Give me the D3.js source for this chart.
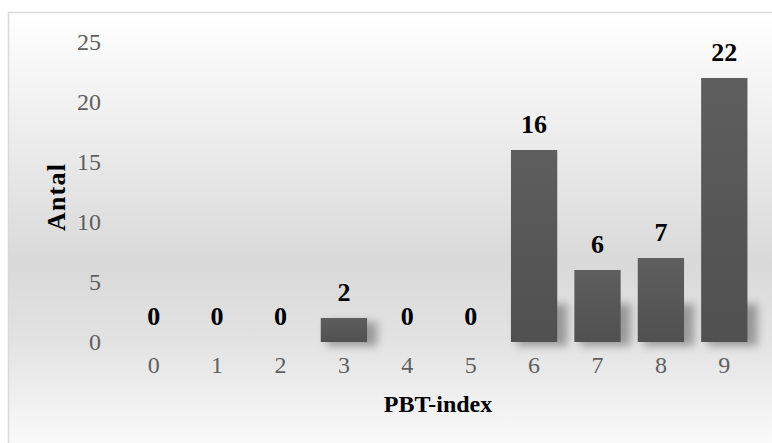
<!DOCTYPE html>
<html>
<head>
<meta charset="utf-8">
<script src="https://cdn.jsdelivr.net/npm/d3@7"></script>
<style>
  html, body { margin: 0; padding: 0; background: #fff; overflow: hidden; }
  svg { display: block; }
</style>
</head>
<body>
<svg id="chart" width="772" height="443"></svg>
<script>
// PBT-index distribution
const categories = ["0", "1", "2", "3", "4", "5", "6", "7", "8", "9"];
const counts = [0, 0, 0, 2, 0, 0, 16, 6, 7, 22];
const yTicks = [0, 5, 10, 15, 20, 25];
const xTitle = "PBT-index";
const yTitle = "Antal";

const W = 772, H = 443;
const svg = d3.select("#chart");
const defs = svg.append("defs");

// chart area background: light at top and bottom, grey through the middle
const bg = defs.append("linearGradient").attr("id", "bgGrad")
  .attr("x1", 0).attr("y1", 0).attr("x2", 0).attr("y2", 1);
[[0, "#ffffff"], [0.18, "#f3f3f3"], [0.55, "#d9d9d9"], [0.72, "#e2e2e2"], [1, "#ffffff"]]
  .forEach(([o, c]) => bg.append("stop").attr("offset", o).attr("stop-color", c));

const barGrad = defs.append("linearGradient").attr("id", "barGrad")
  .attr("x1", 0).attr("y1", 0).attr("x2", 0).attr("y2", 1);
barGrad.append("stop").attr("offset", 0).attr("stop-color", "#5e5e5e");
barGrad.append("stop").attr("offset", 1).attr("stop-color", "#505050");

defs.append("filter").attr("id", "soft")
  .attr("x", "-50%").attr("y", "-50%").attr("width", "200%").attr("height", "200%")
  .append("feGaussianBlur").attr("stdDeviation", 4);

svg.append("rect")
  .attr("x", 8.5).attr("y", 12.5).attr("width", W + 10).attr("height", H + 10)
  .attr("fill", "url(#bgGrad)").attr("stroke", "#d9d9d9").attr("stroke-width", 1.5);

const x = d3.scaleBand().domain(categories).range([122, 756]).paddingInner(0.27).paddingOuter(0.135);
const y = d3.scaleLinear().domain([0, 25]).range([342, 42]);

const data = categories.map((c, i) => ({ c, v: counts[i] }));

// soft shadows falling behind the lower part of each bar
const shadowG = svg.append("g").attr("filter", "url(#soft)");
shadowG.selectAll("rect").data(data.filter(d => d.v > 0)).join("rect")
  .attr("x", d => x(d.c) + 6)
  .attr("y", d => Math.max(y(d.v), y(0) - 42) + 4)
  .attr("width", x.bandwidth() + 4)
  .attr("height", d => y(0) - Math.max(y(d.v), y(0) - 42))
  .attr("fill", "#000").attr("opacity", 0.32);

svg.append("g").selectAll("rect").data(data).join("rect")
  .attr("x", d => x(d.c))
  .attr("y", d => y(d.v))
  .attr("width", x.bandwidth())
  .attr("height", d => y(0) - y(d.v))
  .attr("fill", "url(#barGrad)");

const font = "'Liberation Serif', 'Times New Roman', serif";

// value labels
svg.append("g").selectAll("text").data(data).join("text")
  .attr("x", d => x(d.c) + x.bandwidth() / 2)
  .attr("y", d => y(d.v) - 17)
  .attr("text-anchor", "middle")
  .attr("font-family", font)
  .attr("font-weight", "bold").attr("font-size", 26).attr("fill", "#000")
  .text(d => d.v);

const yAxis = svg.append("g").attr("transform", "translate(101,0)")
  .call(d3.axisLeft(y).tickValues(yTicks).tickSize(0).tickPadding(0));
yAxis.select(".domain").remove();
yAxis.selectAll("text").attr("font-family", font).attr("font-size", 24).attr("fill", "#5f5f5f");

const xAxis = svg.append("g").attr("transform", "translate(0,356)")
  .call(d3.axisBottom(x).tickSize(0).tickPadding(0));
xAxis.select(".domain").remove();
xAxis.selectAll("text").attr("font-family", font).attr("font-size", 24).attr("fill", "#5f5f5f");

svg.append("text")
  .attr("x", 438).attr("y", 412)
  .attr("text-anchor", "middle")
  .attr("font-family", font).attr("font-weight", "bold").attr("font-size", 24)
  .text(xTitle);

svg.append("text")
  .attr("transform", "translate(65,197) rotate(-90)")
  .attr("text-anchor", "middle")
  .attr("font-family", font).attr("font-weight", "bold").attr("font-size", 26)
  .attr("letter-spacing", 1.2)
  .text(yTitle);
</script>
</body>
</html>
